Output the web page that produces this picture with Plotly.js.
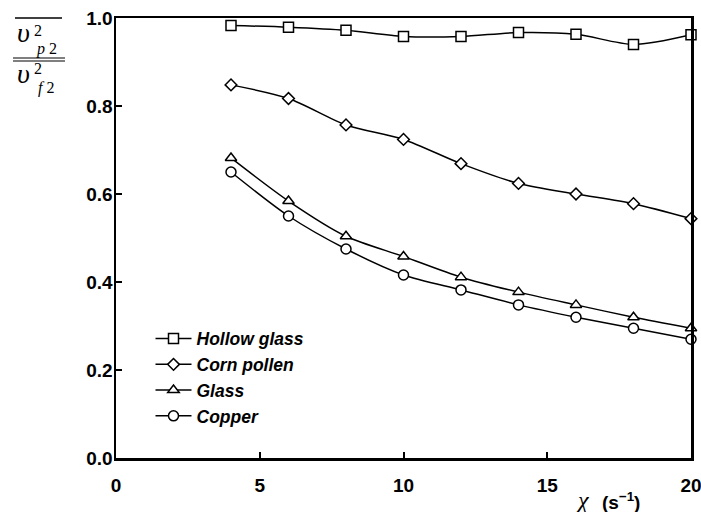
<!DOCTYPE html>
<html>
<head>
<meta charset="utf-8">
<script src="https://cdn.plot.ly/plotly-3.0.1.min.js"></script>
<style>
  html, body { margin: 0; padding: 0; background: #fff; }
  #chart { width: 701px; height: 512px; }
</style>
</head>
<body>
<div id="chart"></div>
<script>
// Shear rate (s^-1)
const shearRate = [4, 6, 8, 10, 12, 14, 16, 18, 20];

// Particle-to-fluid velocity variance ratio for each particle type
const hollowGlass = [0.983, 0.979, 0.972, 0.958, 0.958, 0.967, 0.963, 0.940, 0.962];
const cornPollen  = [0.848, 0.817, 0.757, 0.724, 0.669, 0.624, 0.600, 0.578, 0.544];
const glass       = [0.682, 0.584, 0.504, 0.458, 0.411, 0.377, 0.348, 0.320, 0.295];
const copper      = [0.650, 0.550, 0.475, 0.416, 0.382, 0.348, 0.320, 0.295, 0.270];

const seriesNames   = ['Hollow glass', 'Corn pollen', 'Glass', 'Copper'];
const seriesValues  = [hollowGlass, cornPollen, glass, copper];
const seriesSymbols = ['square', 'diamond', 'triangle-up', 'circle'];
const seriesSizes   = [10, 9, 10, 10];

const xTicks = [0, 5, 10, 15, 20];
const yTicks = [0, 0.2, 0.4, 0.6, 0.8, 1.0];
const yTickText = ['0.0', '0.2', '0.4', '0.6', '0.8', '1.0'];

const traces = seriesNames.map((name, i) => ({
  type: 'scatter',
  mode: 'lines+markers',
  name: name,
  legendgroup: name,
  x: shearRate,
  y: seriesValues[i],
  line: { color: '#000', width: 1.5, shape: 'spline', smoothing: 0.8 },
  marker: {
    symbol: seriesSymbols[i],
    size: seriesSizes[i],
    color: '#fff',
    line: { color: '#000', width: 1.5 }
  },
  cliponaxis: false
}));

const serif = 'Liberation Serif, Times New Roman, serif';
const sans = 'Liberation Sans, Arial, sans-serif';

// small helper for centred text labels in paper coordinates
function label(x, y, text, font) {
  return { xref: 'paper', yref: 'paper', x: x, y: y, xanchor: 'center', yanchor: 'middle',
           showarrow: false, text: text, font: Object.assign({ color: '#000' }, font) };
}

const layout = {
  width: 701,
  height: 512,
  margin: { l: 116, r: 10, t: 18, b: 54 },
  paper_bgcolor: '#fff',
  plot_bgcolor: '#fff',
  showlegend: true,
  legend: {
    x: 0.06, y: 0.312, xanchor: 'left', yanchor: 'top',
    bgcolor: 'rgba(0,0,0,0)',
    tracegroupgap: 0,
    itemwidth: 36,
    font: { family: sans, size: 17.5, color: '#000', weight: 'bold', style: 'italic' }
  },
  xaxis: {
    range: [0, 20],
    tickvals: xTicks,
    ticktext: xTicks.map(String),
    ticks: 'inside', ticklen: 6, tickwidth: 2, tickcolor: '#000',
    showline: true, linewidth: 2.5, linecolor: '#000', mirror: true,
    showgrid: false, zeroline: false,
    ticklabeloverflow: 'allow',
    tickfont: { family: sans, size: 19, color: '#000', weight: 'bold' },
    ticklabelstandoff: 9
  },
  yaxis: {
    range: [0, 1],
    tickvals: yTicks,
    ticktext: yTickText,
    ticks: 'inside', ticklen: 6, tickwidth: 2, tickcolor: '#000',
    showline: true, linewidth: 2.5, linecolor: '#000', mirror: true,
    showgrid: false, zeroline: false,
    ticklabeloverflow: 'allow',
    tickfont: { family: sans, size: 19, color: '#000', weight: 'bold' },
    ticklabelstandoff: -3
  },
  shapes: [
    // overbar above the numerator
    { type: 'line', xref: 'paper', yref: 'paper', x0: -0.1757, x1: -0.0939, y0: 1.0, y1: 1.0,
      line: { color: '#000', width: 1.5 } },
    // double fraction bar
    { type: 'line', xref: 'paper', yref: 'paper', x0: -0.1791, x1: -0.0887, y0: 0.9091, y1: 0.9091,
      line: { color: '#000', width: 1.2 } },
    { type: 'line', xref: 'paper', yref: 'paper', x0: -0.1791, x1: -0.0887, y0: 0.9023, y1: 0.9023,
      line: { color: '#000', width: 1.2 } }
  ],
  annotations: [
    // numerator
    label(-0.1617, 0.966, '<i>υ</i>', { family: serif, size: 28 }),
    label(-0.1348, 0.9727, '2', { family: serif, size: 16 }),
    label(-0.1217, 0.9295, '<i>p</i> 2', { family: serif, size: 16 }),
    // denominator
    label(-0.1617, 0.873, '<i>υ</i>', { family: serif, size: 28 }),
    label(-0.1348, 0.8841, '2', { family: serif, size: 16 }),
    label(-0.1217, 0.8409, '<i>f</i> 2', { family: serif, size: 16 }),
    // x-axis title
    label(0.812, -0.096, '<i>χ</i>', { family: serif, size: 24 }),
    label(0.878, -0.098, '(s<sup>−1</sup>)', { family: sans, size: 19, weight: 'bold' })
  ]
};

Plotly.newPlot('chart', traces, layout, { displayModeBar: false, staticPlot: true });
</script>
</body>
</html>
